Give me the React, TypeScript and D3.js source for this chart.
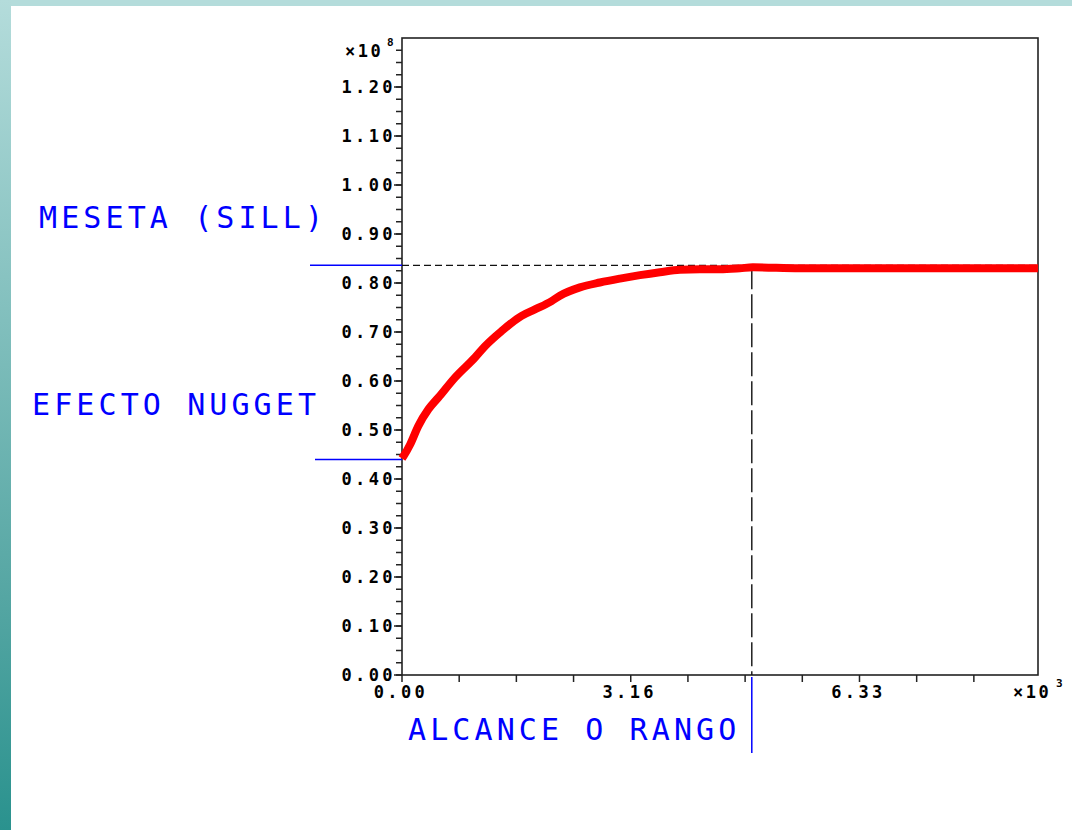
import * as d3 from "d3";

// lag (x10^3) and semivariance (x10^8)
const lagX = [0, 0.018, 0.111, 0.225, 0.364, 0.502, 0.733, 1.01, 1.148, 1.379, 1.655, 1.839, 2.07, 2.185, 2.462, 2.738, 3.015, 3.292, 3.568, 3.845, 4.122, 4.398, 4.675, 4.854, 5.5, 6.5, 7.5, 8.8];
const gammaY = [0.442, 0.446, 0.47, 0.508, 0.542, 0.566, 0.607, 0.648, 0.671, 0.702, 0.733, 0.746, 0.763, 0.774, 0.791, 0.801, 0.809, 0.816, 0.822, 0.827, 0.828, 0.828, 0.83, 0.832, 0.83, 0.83, 0.83, 0.83];

const sill = 0.836;
const nugget = 0.44;
const range = 4.84;

const yMajor = [0, 0.1, 0.2, 0.3, 0.4, 0.5, 0.6, 0.7, 0.8, 0.9, 1.0, 1.1, 1.2];
const yMinorStep = 0.025;
const xTickStep = 0.79125;
const xTickCount = 11;
const xLabels = ["0.00", "3.16", "6.33"]; // at every 4th tick

const W = 1072;
const H = 830;
const left = 402, right = 1038, top = 38, bottom = 675;

export default function App() {
  const x = d3.scaleLinear().domain([0, 8.8]).range([left, right]);
  const y = d3.scaleLinear().domain([0, 1.3]).range([bottom, top]);

  const pts = lagX.map((v, i) => [v, gammaY[i]] as [number, number]);
  const line = d3
    .line<[number, number]>()
    .x((d) => x(d[0]))
    .y((d) => y(d[1]))
    .curve(d3.curveMonotoneX);

  const minor = d3.range(0, 1.28, yMinorStep);
  const xTicks = d3.range(xTickCount).map((i) => i * xTickStep);

  const tickFont = {
    fontFamily: "DejaVu Sans Mono",
    fontWeight: 700,
    fontSize: 17,
    letterSpacing: 3.4,
  } as const;
  const blueFont = {
    fontFamily: "DejaVu Sans Mono",
    fontSize: 30,
    letterSpacing: 4.1,
    fill: "#0000ff",
  } as const;

  return (
    <svg width={W} height={H} style={{ position: "absolute", left: 0, top: 0, background: "#fff" }}>
      <defs>
        <linearGradient id="side" x1="0" y1="0" x2="0" y2="1">
          <stop offset="0" stopColor="#b4dcdb" />
          <stop offset="0.72" stopColor="#55a6a3" />
          <stop offset="1" stopColor="#2a928e" />
        </linearGradient>
      </defs>
      <rect x={0} y={0} width={W} height={6} fill="#b4dcdb" />
      <rect x={0} y={0} width={11} height={H} fill="url(#side)" />

      {/* y ticks */}
      {minor.map((v, i) => (
        <line key={"m" + i} x1={left - 6} x2={left} y1={y(v)} y2={y(v)} stroke="#222" strokeWidth={1.5} />
      ))}
      {yMajor.map((v) => (
        <g key={"y" + v}>
          <line x1={left - 8} x2={left} y1={y(v)} y2={y(v)} stroke="#222" strokeWidth={1.5} />
          <text x={396} y={y(v)} dy="0.36em" textAnchor="end" {...tickFont}>
            {v.toFixed(2)}
          </text>
        </g>
      ))}
      <text x={345} y={57} {...tickFont} letterSpacing={2.5}>
        ×10
      </text>
      <text x={387} y={46} fontFamily="DejaVu Sans Mono" fontWeight={700} fontSize={11}>
        8
      </text>

      {/* x ticks */}
      {xTicks.map((v, i) => (
        <g key={"x" + i}>
          <line x1={x(v)} x2={x(v)} y1={bottom} y2={bottom + 7} stroke="#222" strokeWidth={1.5} />
          {i % 4 === 0 && (
            <text x={x(v) - 1} y={698} textAnchor="middle" {...tickFont}>
              {xLabels[i / 4]}
            </text>
          )}
        </g>
      ))}
      <text x={1013} y={698} {...tickFont} letterSpacing={2.5}>
        ×10
      </text>
      <text x={1056} y={687} fontFamily="DejaVu Sans Mono" fontWeight={700} fontSize={11}>
        3
      </text>

      {/* frame */}
      <rect x={left} y={top} width={right - left} height={bottom - top} fill="none" stroke="#222" strokeWidth={1.6} />

      {/* sill / range guides */}
      <line x1={left} x2={right} y1={y(sill)} y2={y(sill)} stroke="#111" strokeWidth={1.2} strokeDasharray="7,4" />
      <line x1={x(range)} x2={x(range)} y1={y(sill)} y2={bottom} stroke="#111" strokeWidth={1.4} strokeDasharray="24,5" />

      {/* variogram */}
      <path d={line(pts) ?? ""} fill="none" stroke="#ff0000" strokeWidth={8} strokeLinejoin="round" />

      {/* annotations */}
      <line x1={310} x2={left} y1={y(sill)} y2={y(sill)} stroke="#0000ff" strokeWidth={1.5} />
      <line x1={315} x2={left} y1={y(nugget)} y2={y(nugget)} stroke="#0000ff" strokeWidth={1.5} />
      <line x1={x(range)} x2={x(range)} y1={bottom + 2} y2={753} stroke="#0000ff" strokeWidth={1.5} />
      <text x={39} y={228} {...blueFont}>MESETA (SILL)</text>
      <text x={32} y={415} {...blueFont}>EFECTO NUGGET</text>
      <text x={408} y={740} {...blueFont}>ALCANCE O RANGO</text>
    </svg>
  );
}
